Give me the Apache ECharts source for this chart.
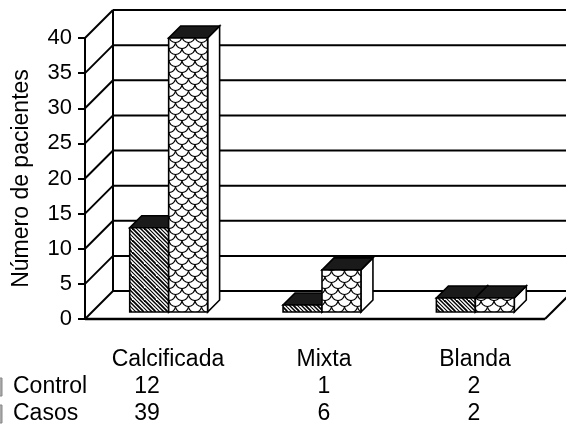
<!DOCTYPE html>
<html>
<head>
<meta charset="utf-8">
<script src="https://cdn.jsdelivr.net/npm/echarts@6/dist/echarts.min.js"></script>
<style>
  html, body { margin: 0; padding: 0; background: #fff; }
  #chart { width: 566px; height: 429px; }
</style>
</head>
<body>
<div id="chart"></div>
<script>
// ---- data ----
const categories = ['Calcificada', 'Mixta', 'Blanda'];
const seriesNames = ['Control', 'Casos'];
const controlValues = [12, 1, 2];
const casosValues = [39, 6, 2];
const yMin = 0;
const yMax = 40;
const yStep = 5;

// ---- layout ----
const FONT = '"Liberation Sans", Arial, sans-serif';
const WALL_DEPTH = 28;      // depth of the floor / side wall (px, 45°)
const BAR_OFFSET = 7;       // how far back the bars' front faces sit
const BAR_DEPTH = 12;       // thickness of each bar
const BAR_FRAC = 0.254;     // bar width as a fraction of the category band
const LABEL_X = [168, 324, 475];   // column header centres
const VALUE_X = [147, 324, 474];   // column value centres
const HEADER_Y = 360, ROW_Y = [387, 414], ROW_LABEL_X = 13;

// ---- fill patterns ----
function hatchPattern() {
  const s = 12;
  const c = document.createElement('canvas');
  c.width = s; c.height = s;
  const g = c.getContext('2d');
  g.fillStyle = '#fff';
  g.fillRect(0, 0, s, s);
  g.strokeStyle = '#000';
  const widths = [1.9, 1.1, 1.5];
  for (let k = -2; k < 5; k++) {
    g.lineWidth = widths[((k % 3) + 3) % 3];
    const x = k * 4;
    g.beginPath();
    g.moveTo(x - s, -s);
    g.lineTo(x + 2 * s, 2 * s);
    g.stroke();
  }
  return c;
}
function scalePattern() {
  const w = 13, h = 12, r = 6.5;
  const c = document.createElement('canvas');
  c.width = w; c.height = h;
  const g = c.getContext('2d');
  g.fillStyle = '#fff';
  g.fillRect(0, 0, w, h);
  g.strokeStyle = '#000';
  g.lineWidth = 1.1;
  const centres = [[w / 2, 0], [w / 2, h], [0, h / 2], [w, h / 2], [0, -h / 2], [w, -h / 2]];
  centres.forEach(([cx, cy]) => {
    g.beginPath();
    g.arc(cx, cy, r, 0, Math.PI);
    g.stroke();
  });
  return c;
}
const patterns = [
  { image: hatchPattern(), repeat: 'repeat' },
  { image: scalePattern(), repeat: 'repeat' }
];

const chart = echarts.init(document.getElementById('chart'), null, { renderer: 'canvas' });
const lineStyle = { stroke: '#000', lineWidth: 2 };

// back wall grid lines, side wall diagonals and floor outline
function renderWalls(params, api) {
  const cs = params.coordSys;
  const v = api.value(1);
  const y = api.coord([0, v])[1];
  const x0 = cs.x, x1 = cs.x + cs.width, D = WALL_DEPTH;
  const children = [
    { type: 'line', shape: { x1: x0 + D, y1: y - D, x2: x1 + D, y2: y - D }, style: lineStyle },
    { type: 'line', shape: { x1: x0, y1: y, x2: x0 + D, y2: y - D }, style: lineStyle }
  ];
  if (v === yMin) {
    children.push({ type: 'line', shape: { x1: x0, y1: y, x2: x1, y2: y }, style: { stroke: '#000', lineWidth: 2.5 } });
    children.push({ type: 'line', shape: { x1: x1, y1: y, x2: x1 + D, y2: y - D }, style: lineStyle });
    const yTop = api.coord([0, yMax])[1];
    children.push({ type: 'line', shape: { x1: x0 + D, y1: y - D, x2: x0 + D, y2: yTop - D }, style: lineStyle });
  }
  return { type: 'group', children };
}

// pseudo-3D bar: patterned front, black top, white side
function barRenderer(slot) {
  return function (params, api) {
    const ci = api.value(0), v = api.value(1);
    const base = api.coord([ci, 0]);
    const top = api.coord([ci, v]);
    const band = api.size([1, 0])[0];
    const w = band * BAR_FRAC;
    const left = base[0] - w + slot * w + BAR_OFFSET;
    const bottom = base[1] - BAR_OFFSET;
    const yTop = top[1] - BAR_OFFSET;
    const d = BAR_DEPTH;
    const stroke = { stroke: '#000', lineWidth: 1.6, lineJoin: 'miter' };
    return {
      type: 'group',
      children: [
        { type: 'polygon', shape: { points: [[left + w, yTop], [left + w + d, yTop - d], [left + w + d, bottom - d], [left + w, bottom]] },
          style: Object.assign({ fill: '#fff' }, stroke) },
        { type: 'polygon', shape: { points: [[left, yTop], [left + w, yTop], [left + w + d, yTop - d], [left + d, yTop - d]] },
          style: Object.assign({ fill: '#1a1a1a' }, stroke) },
        { type: 'rect', shape: { x: left, y: yTop, width: w, height: bottom - yTop },
          style: Object.assign({ fill: patterns[slot] }, stroke) }
      ]
    };
  };
}

const yTicks = [];
for (let v = yMin; v <= yMax; v += yStep) yTicks.push(v);

// data table below the plot
const textStyle = (t, x, y, align) => ({
  type: 'text', x, y,
  style: { text: t, font: '23px ' + FONT, fill: '#000', align: align || 'center', verticalAlign: 'middle' }
});
const tableGraphics = [];
categories.forEach((c, i) => tableGraphics.push(textStyle(c, LABEL_X[i], HEADER_Y)));
[controlValues, casosValues].forEach((vals, r) => {
  tableGraphics.push(textStyle(seriesNames[r], ROW_LABEL_X, ROW_Y[r], 'left'));
  tableGraphics.push({ type: 'rect', shape: { x: -9, y: ROW_Y[r] - 9, width: 11, height: 18 },
    style: { fill: '#aaa', stroke: '#888', lineWidth: 1 } });
  vals.forEach((v, i) => tableGraphics.push(textStyle(String(v), VALUE_X[i], ROW_Y[r])));
});

chart.setOption({
  animation: false,
  backgroundColor: '#fff',
  grid: { left: 85, right: 21, top: 38, bottom: 110 },
  xAxis: {
    type: 'category',
    data: categories,
    axisLine: { show: false },
    axisTick: { show: false },
    axisLabel: { show: false },
    splitLine: { show: false }
  },
  yAxis: {
    type: 'value',
    min: yMin, max: yMax, interval: yStep,
    name: 'Número de pacientes',
    nameLocation: 'middle',
    nameRotate: 90,
    nameGap: 52,
    nameTextStyle: { fontFamily: FONT, fontSize: 23, color: '#000' },
    axisLine: { show: true, lineStyle: { color: '#000', width: 2 } },
    axisTick: { show: true, length: 7, lineStyle: { color: '#000', width: 2 } },
    axisLabel: { fontFamily: FONT, fontSize: 22, color: '#000', margin: 13 },
    splitLine: { show: false }
  },
  series: [
    {
      type: 'custom', name: 'walls', silent: true, z: 1,
      renderItem: renderWalls,
      data: yTicks.map(v => [0, v]),
      encode: { x: 0, y: 1 }
    },
    {
      type: 'custom', name: seriesNames[0], z: 2,
      renderItem: barRenderer(0),
      data: controlValues.map((v, i) => [i, v]),
      encode: { x: 0, y: 1 }
    },
    {
      type: 'custom', name: seriesNames[1], z: 3,
      renderItem: barRenderer(1),
      data: casosValues.map((v, i) => [i, v]),
      encode: { x: 0, y: 1 }
    }
  ],
  graphic: tableGraphics
});
</script>
</body>
</html>
